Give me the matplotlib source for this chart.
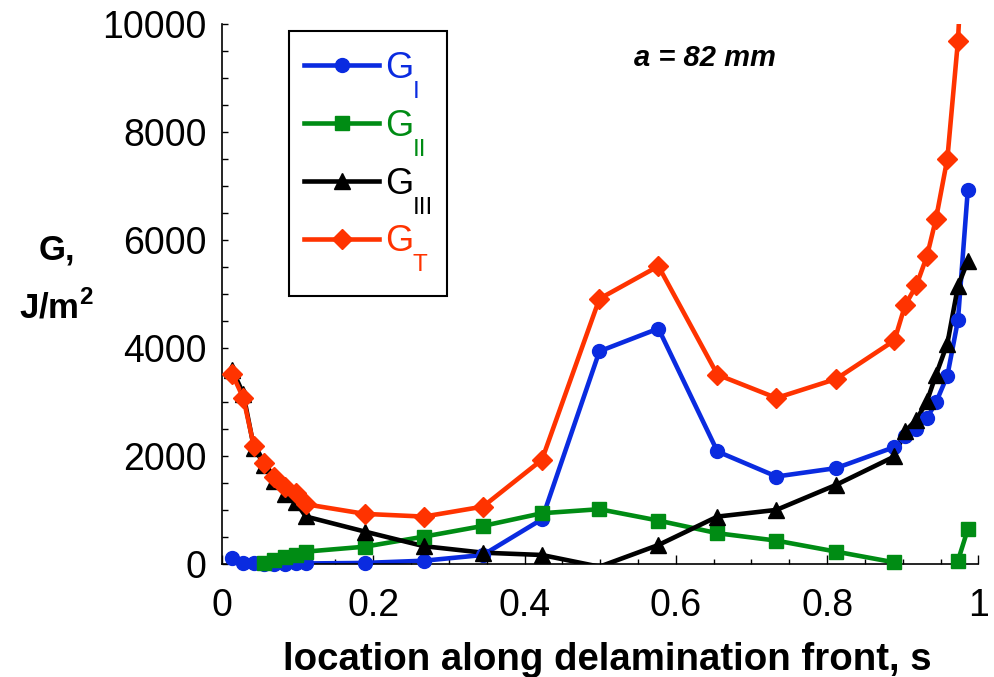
import numpy as np
import matplotlib
matplotlib.use("Agg")
import matplotlib.pyplot as plt
from matplotlib.lines import Line2D
from matplotlib.patches import Rectangle
from matplotlib.ticker import MultipleLocator

plt.rcParams['font.family'] = ['Liberation Sans', 'DejaVu Sans']
plt.rcParams['mathtext.fontset'] = 'custom'
plt.rcParams['mathtext.rm'] = 'Liberation Sans'
plt.rcParams['mathtext.bf'] = 'Liberation Sans:bold'

# location along the delamination front
s = [0.0136, 0.0282, 0.0423, 0.056, 0.069, 0.0833, 0.0975, 0.1107, 0.189, 0.267,
     0.345, 0.423, 0.499, 0.577, 0.655, 0.733, 0.812, 0.889, 0.903, 0.918,
     0.932, 0.944, 0.959, 0.973, 0.986]

G_I = [106, 25, 10, 5, 5, 5, 10, 10, 20, 61,
       167, 829, 3939, 4360, 2084, 1620, 1776, 2165, 2362, 2499,
       2703, 2993, 3488, 4514, 6926]

G_II = [np.nan, np.nan, np.nan, 24, 74, 124, 167, 229, 321, 507,
        705, 940, 1015, 804, 570, 433, 229, 30, np.nan, np.nan,
        np.nan, np.nan, np.nan, 61, 643]

G_III = [3600, 3150, 2150, 1840, 1540, 1300, 1150, 880, 600, 330,
         210, 167, -50, 352, 878, 1002, 1466, 1991, 2455, 2672,
         3011, 3506, 4082, 5145, 5609]

G_T = [3520, 3074, 2176, 1868, 1620, 1435, 1323, 1107, 928, 878,
       1063, 1930, 4911, 5516, 3506, 3074, 3427, 4140, 4787, 5158,
       5701, 6395, 7508, 9690, 13180]

subscripts = ['I', 'II', 'III', 'T']

s = np.array(s)
series = [
    (np.array(G_I, dtype=float), "#0a2be0", "o", 10),
    (np.array(G_II, dtype=float), "#008c14", "s", 10),
    (np.array(G_III, dtype=float), "black", "^", 11),
    (np.array(G_T, dtype=float), "#ff3300", "D", 10.5),
]

W, H = 995, 677
fig = plt.figure(figsize=(W / 100, H / 100), dpi=100)
ax = fig.add_axes([0.2231, 0.1669, 0.7602, 0.7977])

handles = []
for y, col, mk, ms in series:
    ax.plot(s, y, color=col, lw=3.3)
    # markers only where the point lies inside the plotted range
    keep = (y >= 0) & (y <= 10000)
    ax.plot(s[keep], y[keep], ls='none', marker=mk, ms=ms, color=col,
            mec=col, clip_on=False, zorder=3)
    handles.append(Line2D([], [], color=col, lw=3.3, marker=mk, ms=ms, label='G'))

ax.set_xlim(0, 1)
ax.set_ylim(0, 10000)
ax.spines['top'].set_visible(False)
ax.spines['right'].set_visible(False)
ax.spines['left'].set_linewidth(1.2)
ax.spines['bottom'].set_linewidth(1.2)

ax.xaxis.set_minor_locator(MultipleLocator(0.05))
ax.yaxis.set_major_locator(MultipleLocator(2000))
ax.yaxis.set_minor_locator(MultipleLocator(500))
ax.set_xticks([0, 0.2, 0.4, 0.6, 0.8, 1.0])
ax.set_xticklabels(['0', '0.2', '0.4', '0.6', '0.8', '1'])

ax.tick_params(axis='x', which='major', direction='in', length=6.5, width=1, labelsize=27, pad=17)
ax.tick_params(axis='x', which='minor', direction='in', length=3.5, width=1)
ax.tick_params(axis='y', which='major', direction='in', length=4, width=1, labelsize=27, pad=11)
ax.tick_params(axis='y', which='minor', direction='in', length=4, width=1)

ax.set_xlabel('location along delamination front, s', fontsize=27.6, fontweight='bold',
              va='baseline')
ax.xaxis.set_label_coords(0.509, -0.1967)

fig.text(0.057, 0.631, 'G,', fontsize=25, fontweight='bold', ha='center', va='center')
fig.text(0.057, 0.545, r'J/m$^{\mathbf{2}}$', fontsize=25, fontweight='bold', ha='center', va='center')

ax.text(0.639, 9369, 'a = 82 mm', fontsize=21, fontweight='bold', fontstyle='italic',
        ha='center', va='center')

# legend: handles + "G", subscripts added below the baseline afterwards
leg = ax.legend(handles=handles, loc='upper left', bbox_to_anchor=(304 / W, 1 - 51 / H),
                bbox_transform=fig.transFigure, borderaxespad=0, borderpad=0,
                fontsize=26, handlelength=2.08, handletextpad=0.17, labelspacing=0.63,
                frameon=False, labelcolor='linecolor')
fig.add_artist(Rectangle((289 / W, 1 - 296 / H), (447 - 289) / W, (296 - 31) / H,
                         transform=fig.transFigure, fill=False, ec='black', lw=1.5))

fig.canvas.draw()
for txt, sub, (y, col, mk, ms) in zip(leg.get_texts(), subscripts, series):
    bb = txt.get_window_extent()
    xb, yb = txt.get_transform().transform(txt.get_position())
    fig.text((bb.x1 - 1) / W, (yb - 20) / H, sub, fontsize=17.5, color=col,
             ha='left', va='baseline')

fig.savefig('out.png', dpi=100)
